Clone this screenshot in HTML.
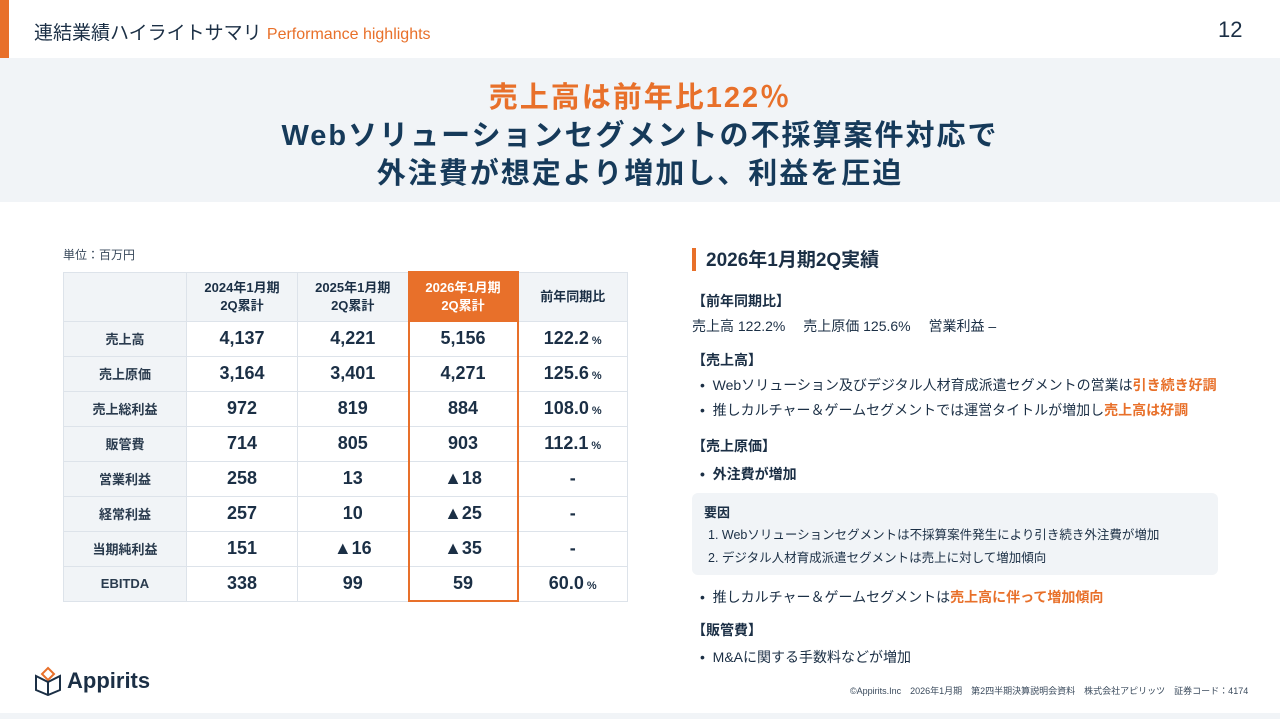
<!DOCTYPE html>
<html><head><meta charset="utf-8">
<style>
*{margin:0;padding:0;box-sizing:border-box}
body{width:1280px;height:719px;background:#fff;position:relative;overflow:hidden;font-family:"Liberation Sans","Noto Sans CJK JP",sans-serif;color:#1b2f45}
.abs{position:absolute}
.navy{color:#163a5a}
.or{color:#e8702a}
table{position:absolute;left:63px;top:271px;border-collapse:collapse;table-layout:fixed}
td,th{border:1px solid #dde3ea;text-align:center;color:#1b2f45}
th{height:49px;font-size:13px;font-weight:bold;line-height:18px;background:#f1f4f7}
td{height:35px;font-size:18px;font-weight:bold}
td.lab{background:#f1f4f7;font-size:13px;color:#2a3b4e}
th.hl{background:#e8702a;color:#fff;border:2px solid #e8702a}
td.hl{border-left:2px solid #e8702a;border-right:2px solid #e8702a}
tr:last-child td.hl{border-bottom:2px solid #e8702a}
td small{font-size:11px}
.rt{font-size:14px;color:#1b2f45;position:absolute;left:692px;white-space:nowrap}
.sec{font-weight:bold}
</style></head><body>
<div class="abs" style="left:0;top:0;width:9px;height:58px;background:#e8702a"></div>
<div class="abs" style="left:34px;top:18px;font-size:19px;color:#1b2f45;white-space:nowrap">連結業績ハイライトサマリ <span style="color:#e8702a;font-size:16px">Performance highlights</span></div>
<div class="abs" style="left:1218px;top:17px;font-size:22px;color:#1b2f45">12</div>
<div class="abs" style="left:0;top:58px;width:1280px;height:144px;background:#f1f4f7;text-align:center;font-weight:bold;letter-spacing:2px">
 <div class="or" style="font-size:29px;line-height:38px;margin-top:21px">売上高は前年比122％</div>
 <div class="navy" style="font-size:29px;line-height:38px">Webソリューションセグメントの不採算案件対応で</div>
 <div class="navy" style="font-size:29px;line-height:38px">外注費が想定より増加し、利益を圧迫</div>
</div>
<div class="abs" style="left:63px;top:246px;font-size:12px;color:#3a4a5c">単位：百万円</div>
<table>
<colgroup><col style="width:123px"><col style="width:111px"><col style="width:111px"><col style="width:109px"><col style="width:110px"></colgroup>
<tr><th></th><th>2024年1月期<br>2Q累計</th><th>2025年1月期<br>2Q累計</th><th class="hl">2026年1月期<br>2Q累計</th><th>前年同期比</th></tr>
<tr><td class="lab">売上高</td><td>4,137</td><td>4,221</td><td class="hl">5,156</td><td>122.2<small> %</small></td></tr>
<tr><td class="lab">売上原価</td><td>3,164</td><td>3,401</td><td class="hl">4,271</td><td>125.6<small> %</small></td></tr>
<tr><td class="lab">売上総利益</td><td>972</td><td>819</td><td class="hl">884</td><td>108.0<small> %</small></td></tr>
<tr><td class="lab">販管費</td><td>714</td><td>805</td><td class="hl">903</td><td>112.1<small> %</small></td></tr>
<tr><td class="lab">営業利益</td><td>258</td><td>13</td><td class="hl">▲18</td><td>-</td></tr>
<tr><td class="lab">経常利益</td><td>257</td><td>10</td><td class="hl">▲25</td><td>-</td></tr>
<tr><td class="lab">当期純利益</td><td>151</td><td>▲16</td><td class="hl">▲35</td><td>-</td></tr>
<tr><td class="lab">EBITDA</td><td>338</td><td>99</td><td class="hl">59</td><td>60.0<small> %</small></td></tr>
</table>
<div class="abs" style="left:692px;top:248px;width:4px;height:23px;background:#e8702a"></div>
<div class="abs" style="left:706px;top:245px;font-size:19px;font-weight:bold;color:#1b2f45">2026年1月期2Q実績</div>
<div class="rt sec" style="top:291px">【前年同期比】</div>
<div class="rt" style="top:316px">売上高 122.2%　 売上原価 125.6%　 営業利益 –</div>
<div class="rt sec" style="top:350px">【売上高】</div>
<div class="rt" style="top:375px;left:700px">•&nbsp; Webソリューション及びデジタル人材育成派遣セグメントの営業は<b class="or">引き続き好調</b></div>
<div class="rt" style="top:400px;left:700px">•&nbsp; 推しカルチャー＆ゲームセグメントでは運営タイトルが増加し<b class="or">売上高は好調</b></div>
<div class="rt sec" style="top:436px">【売上原価】</div>
<div class="rt sec or" style="top:464px;left:700px">•&nbsp; 外注費が増加</div>
<div class="abs" style="left:692px;top:493px;width:526px;height:82px;background:#f1f4f7;border-radius:6px">
 <div style="position:absolute;left:12px;top:9px;font-size:13px;font-weight:bold">要因</div>
 <div style="position:absolute;left:16px;top:31px;font-size:12.5px;white-space:nowrap">1. Webソリューションセグメントは不採算案件発生により引き続き外注費が増加</div>
 <div style="position:absolute;left:16px;top:54px;font-size:12.5px;white-space:nowrap">2. デジタル人材育成派遣セグメントは売上に対して増加傾向</div>
</div>
<div class="rt" style="top:587px;left:700px">•&nbsp; 推しカルチャー＆ゲームセグメントは<b class="or">売上高に伴って増加傾向</b></div>
<div class="rt sec" style="top:620px">【販管費】</div>
<div class="rt" style="top:647px;left:700px">•&nbsp; M&amp;Aに関する手数料などが増加</div>
<div class="abs" style="left:34px;top:666px;display:flex;align-items:center">
 <svg width="28" height="30" viewBox="0 0 28 30"><path d="M14 2 L20 8 L14 14 L8 8Z" fill="none" stroke="#e8702a" stroke-width="2"/><path d="M2 10 L14 16 L26 10 L26 24 L14 29 L2 24Z" fill="none" stroke="#1b2f45" stroke-width="2"/><path d="M14 16 V29" stroke="#1b2f45" stroke-width="2"/></svg>
 <span style="font-size:22px;font-weight:bold;color:#1b2f45;margin-left:5px">Appirits</span>
</div>
<div class="abs" style="left:850px;top:684px;font-size:9px;color:#3a4a5c;white-space:nowrap">©Appirits.Inc　2026年1月期　第2四半期決算説明会資料　株式会社アピリッツ　証券コード：4174</div>
<div class="abs" style="left:0;top:713px;width:1280px;height:6px;background:#f1f4f7"></div>
</body></html>
